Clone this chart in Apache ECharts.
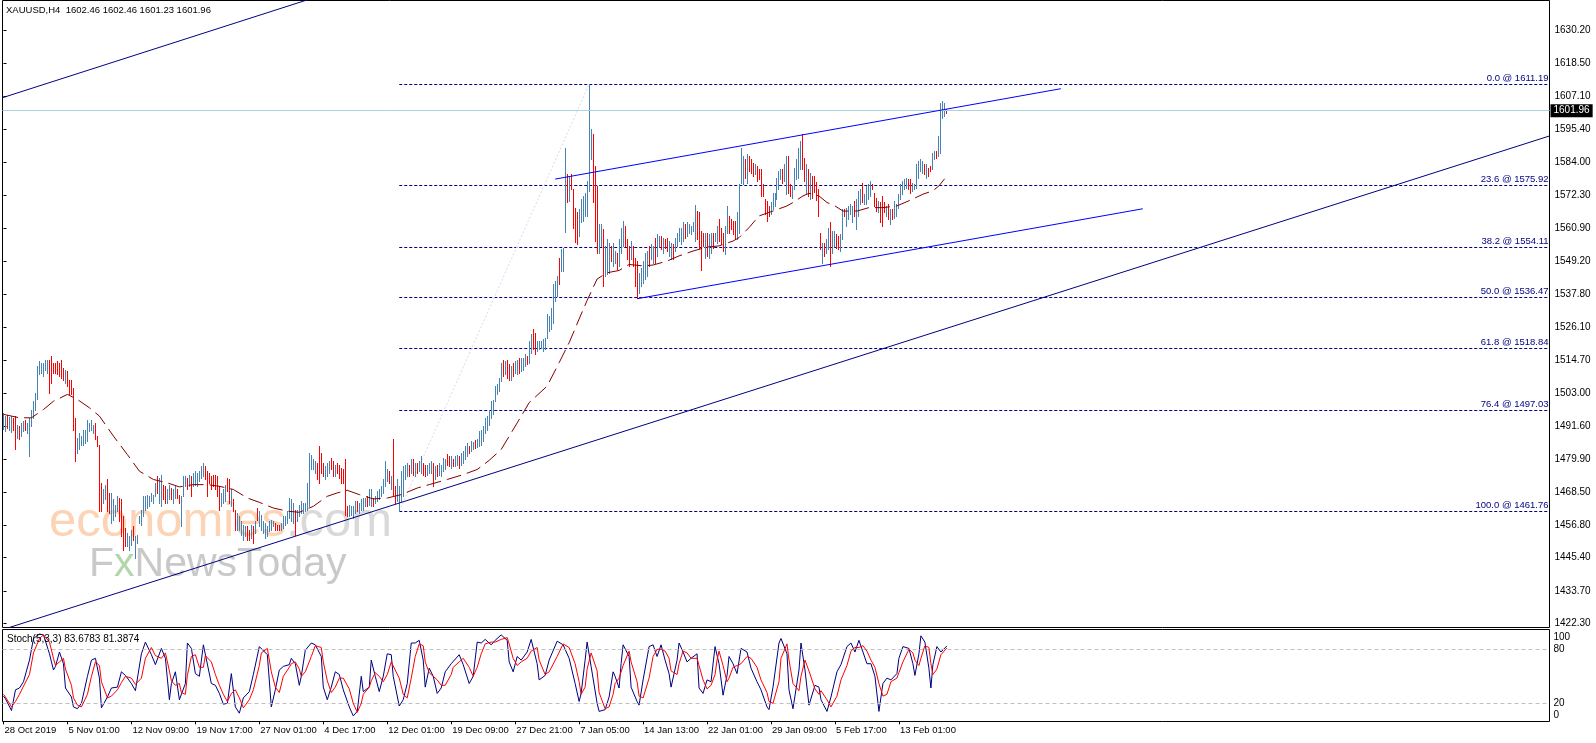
<!DOCTYPE html>
<html><head><meta charset="utf-8">
<script src="https://cdn.jsdelivr.net/npm/echarts@6/dist/echarts.min.js"></script>
<style>html,body{margin:0;padding:0;background:#fff}#c{width:1596px;height:743px}</style>
</head><body><div id="c"></div>
<script>
// ---------- data ----------
const xTickLabels = ['28 Oct 2019','5 Nov 01:00','12 Nov 09:00','19 Nov 17:00','27 Nov 01:00','4 Dec 17:00','12 Dec 01:00','19 Dec 09:00','27 Dec 21:00','7 Jan 05:00','14 Jan 13:00','22 Jan 01:00','29 Jan 09:00','5 Feb 17:00','13 Feb 01:00'];
const priceTickLabels = ['1630.20','1618.50','1607.10','1595.40','1584.00','1572.30','1560.90','1549.20','1537.80','1526.10','1514.70','1503.00','1491.60','1479.90','1468.50','1456.80','1445.40','1433.70','1422.30'];
const stochTickLabels = [0, 20, 80, 100];

const barHigh = [
1496.0,1495.2,1495.5,1494.8,1495.0,1494.4,1495.0,1492.0,1491.5,1492.6,
1493.2,1493.8,1492.6,1494.4,1497.3,1500.2,1503.2,1512.5,1514.3,1513.7,
1513.7,1514.8,1514.6,1514.8,1516.2,1513.7,1513.7,1514.3,1513.7,1514.8,
1511.9,1511.3,1510.7,1507.8,1507.8,1504.9,1494.4,1487.4,1489.1,1487.9,
1490.3,1490.3,1493.8,1492.6,1493.8,1492.0,1492.6,1487.9,1485.0,1471.6,
1469.3,1471.0,1472.8,1468.1,1468.1,1465.8,1464.0,1466.9,1466.3,1465.8,
1459.9,1455.8,1454.1,1452.9,1455.2,1456.4,1452.9,1453.5,1459.9,1462.2,
1466.9,1466.9,1467.5,1466.9,1468.1,1467.5,1471.6,1473.9,1473.3,1474.5,
1471.0,1470.4,1469.3,1471.0,1469.8,1469.3,1470.4,1469.3,1467.5,1466.9,
1473.9,1473.9,1473.3,1474.5,1473.9,1475.1,1475.7,1475.1,1475.7,1477.4,
1478.6,1477.4,1475.7,1475.1,1473.9,1474.5,1474.5,1473.9,1470.4,1468.1,
1469.3,1471.0,1473.3,1472.8,1469.3,1465.8,1462.2,1461.1,1459.9,1458.2,
1457.0,1456.4,1456.4,1455.2,1457.0,1456.4,1458.2,1462.8,1461.7,1460.5,
1458.2,1457.6,1456.4,1458.2,1458.7,1458.2,1457.6,1457.0,1457.0,1457.6,
1459.9,1459.9,1461.7,1466.3,1465.8,1464.6,1462.2,1462.2,1464.0,1465.2,
1464.6,1464.6,1471.6,1482.1,1481.5,1479.8,1479.2,1478.6,1484.5,1482.1,
1478.6,1477.4,1478.6,1479.2,1480.4,1479.2,1478.0,1478.6,1478.0,1476.9,
1476.3,1479.8,1463.4,1464.0,1463.4,1463.4,1465.2,1465.2,1464.6,1465.8,
1466.3,1466.3,1466.9,1469.3,1469.3,1466.3,1466.9,1468.7,1469.3,1470.4,
1472.8,1479.2,1476.3,1475.7,1473.9,1486.8,1470.4,1472.8,1470.4,
1475.7,1477.4,1478.0,1478.6,1478.0,1479.8,1479.8,1478.6,1478.6,1479.2,
1480.9,1478.6,1478.0,1478.0,1478.6,1479.2,1478.6,1477.4,1478.0,1478.6,
1478.0,1480.4,1479.8,1481.8,1480.9,1480.9,1479.8,1480.9,1481.5,1480.9,
1482.1,1482.7,1484.5,1485.6,1484.5,1486.2,1486.0,1486.5,1487.0,1489.7,
1490.3,1491.5,1494.4,1495.0,1497.3,1500.2,1500.8,1505.5,1506.1,1508.4,
1513.7,1514.8,1514.3,1514.8,1513.1,1512.5,1513.7,1514.3,1514.8,1515.4,
1515.4,1515.4,1516.6,1516.0,1521.3,1523.6,1525.4,1524.2,1521.3,1521.3,
1521.3,1521.9,1522.4,1530.6,1530.0,1533.0,1541.1,1542.3,1544.0,1550.5,
1553.4,1554.0,1588.8,1579.7,1579.1,1579.7,1574.5,1568.0,1566.3,1567.4,
1571.0,1572.1,1573.3,1577.4,1611.19,1595.5,1593.7,1582.6,1575.6,1562.2,
1562.2,1560.4,1554.6,1556.9,1555.7,1554.6,1555.7,1552.8,1552.2,1556.9,
1561.0,1563.3,1561.6,1556.9,1554.6,1556.3,1554.6,1550.5,1549.3,1545.2,
1547.0,1549.3,1552.2,1552.8,1554.6,1555.1,1554.6,1557.5,1558.7,1558.1,
1558.1,1557.5,1556.9,1557.5,1556.3,1555.7,1555.1,1557.5,1559.2,1561.0,
1561.0,1562.8,1562.2,1562.8,1562.2,1561.6,1562.8,1569.0,1566.9,1566.3,
1559.8,1559.2,1559.2,1559.2,1558.7,1559.2,1559.2,1559.2,1561.6,1564.0,
1561.0,1559.2,1561.6,1568.6,1565.1,1564.0,1563.3,1563.3,1566.3,1576.2,
1589.0,1586.1,1585.0,1586.7,1586.1,1585.0,1583.8,1583.2,1582.6,1581.5,
1581.5,1576.2,1570.9,1570.4,1568.6,1569.8,1573.3,1573.3,1578.5,1580.9,
1581.5,1581.5,1583.2,1586.1,1586.1,1576.2,1575.6,1582.0,1585.0,1589.0,
1591.4,1593.7,1585.5,1583.2,1581.5,1580.3,1579.0,1579.0,1577.0,1574.7,
1559.2,1555.7,1555.7,1556.9,1561.0,1562.8,1559.8,1559.8,1558.7,1558.1,
1558.7,1567.4,1567.4,1568.0,1568.6,1569.2,1568.6,1570.4,1570.9,1573.9,
1574.4,1576.8,1572.7,1575.6,1576.2,1577.4,1576.2,1573.3,1571.5,1570.4,
1569.8,1572.1,1569.8,1568.6,1569.2,1567.4,1567.4,1570.4,1569.2,1572.7,
1576.2,1577.4,1577.9,1578.5,1577.9,1577.9,1576.8,1576.2,1583.2,1584.4,
1585.0,1584.4,1583.2,1583.2,1582.0,1582.6,1587.3,1587.9,1587.9,1593.1,
1604.8,1605.3,1604.8,1602.46
];
const barLow = [
1490.5,1489.7,1491.0,1490.3,1489.4,1490.0,1483.3,1487.4,1486.8,1487.9,
1489.7,1490.3,1489.1,1481.0,1491.5,1494.4,1497.3,1501.0,1509.6,1510.2,
1509.0,1511.3,1510.2,1503.2,1506.7,1510.2,1510.2,1509.6,1509.0,1508.4,
1507.8,1506.7,1505.5,1502.6,1502.6,1490.3,1479.2,1482.1,1483.3,1485.0,
1485.0,1485.6,1486.2,1489.7,1490.3,1489.1,1486.8,1484.5,1461.7,1461.7,
1464.6,1465.8,1461.7,1461.1,1457.6,1458.7,1459.9,1461.7,1458.2,1452.9,
1448.2,1449.4,1449.4,1448.2,1450.0,1451.7,1445.3,1450.6,1457.6,1457.0,
1459.9,1462.2,1462.8,1463.4,1465.2,1464.6,1466.9,1468.1,1464.6,1463.4,
1465.8,1464.6,1464.6,1465.8,1465.8,1464.6,1466.3,1466.3,1464.6,1456.4,
1466.9,1470.4,1469.3,1470.4,1466.9,1470.4,1471.0,1470.4,1472.2,1473.3,
1473.9,1472.8,1466.9,1471.6,1469.3,1470.4,1469.3,1466.9,1462.2,1463.4,
1464.6,1465.2,1468.7,1464.6,1463.4,1461.7,1455.2,1455.2,1455.2,1453.5,
1451.7,1452.9,1451.7,1451.7,1452.3,1450.6,1454.1,1458.7,1456.4,1455.2,
1454.1,1452.3,1452.9,1454.6,1455.2,1456.4,1455.2,1455.2,1455.2,1455.2,
1455.8,1457.0,1457.6,1459.3,1458.2,1457.6,1453.5,1458.2,1459.9,1461.1,
1461.1,1461.7,1462.2,1463.4,1476.3,1476.3,1475.1,1472.8,1471.6,1475.1,
1473.9,1472.8,1473.9,1475.1,1476.3,1473.9,1473.9,1475.1,1473.3,1471.6,
1471.6,1460.5,1459.9,1459.9,1460.5,1459.3,1461.1,1461.7,1461.1,1462.2,
1462.2,1463.4,1463.4,1464.0,1463.4,1463.4,1464.6,1465.2,1465.8,1466.9,
1468.1,1470.4,1472.2,1471.6,1469.3,1467.5,1464.6,1465.2,1461.76,
1465.2,1466.9,1472.8,1473.9,1473.9,1475.1,1474.5,1473.9,1475.1,1475.7,
1475.1,1474.5,1473.9,1474.5,1475.1,1475.1,1470.4,1472.8,1473.9,1474.5,
1473.9,1475.7,1476.3,1478.0,1477.4,1476.9,1477.4,1477.4,1478.0,1476.9,
1478.0,1478.6,1479.8,1481.0,1482.1,1482.7,1483.3,1483.8,1484.0,1484.5,
1485.0,1486.2,1489.1,1490.3,1492.0,1494.4,1495.6,1500.2,1502.6,1503.8,
1507.2,1509.0,1509.6,1508.4,1507.8,1507.8,1509.0,1510.2,1509.6,1510.2,
1510.7,1511.3,1512.5,1513.1,1513.7,1517.2,1518.4,1516.6,1517.8,1518.4,
1518.9,1517.8,1518.4,1522.4,1524.8,1525.4,1527.7,1535.3,1537.0,1541.1,
1545.8,1545.8,1559.6,1569.8,1570.4,1574.5,1561.0,1555.8,1555.2,1558.1,
1562.8,1563.4,1565.1,1565.1,1573.9,1585.0,1570.0,1556.3,1552.2,1552.2,
1554.6,1540.5,1544.0,1544.6,1545.2,1549.3,1547.6,1548.7,1546.4,1547.6,
1552.2,1554.6,1554.6,1549.9,1547.6,1549.9,1547.6,1540.5,1536.3,1538.2,
1540.5,1541.7,1542.9,1544.0,1547.6,1549.9,1548.7,1548.7,1551.1,1554.6,
1553.4,1552.2,1554.0,1552.8,1551.1,1549.9,1549.9,1552.8,1554.6,1556.3,
1555.1,1556.3,1557.5,1558.1,1559.2,1558.7,1559.8,1556.3,1556.9,1554.0,
1546.1,1554.6,1550.5,1551.1,1550.5,1552.2,1554.0,1556.3,1555.7,1556.3,
1555.1,1552.8,1551.6,1559.2,1559.2,1560.4,1558.7,1556.9,1556.9,1559.2,
1576.8,1576.2,1578.5,1576.8,1580.9,1580.3,1579.1,1579.7,1577.4,1577.9,
1572.1,1572.1,1565.7,1563.3,1565.1,1565.7,1567.4,1568.6,1570.9,1574.4,
1577.9,1576.8,1577.4,1572.7,1573.3,1572.1,1571.5,1574.4,1577.9,1578.5,
1581.5,1581.5,1577.5,1573.3,1572.1,1571.0,1571.5,1573.5,1570.5,1565.1,
1553.4,1548.7,1551.1,1552.2,1553.4,1547.6,1552.2,1554.6,1554.0,1553.4,
1552.8,1556.9,1565.1,1561.6,1563.9,1565.7,1562.8,1565.1,1560.4,1565.1,
1569.2,1569.8,1569.2,1569.2,1570.9,1572.1,1574.4,1568.6,1566.8,1566.3,
1562.8,1561.6,1566.3,1565.1,1563.9,1562.2,1563.9,1564.5,1565.1,1568.0,
1570.9,1572.7,1574.4,1575.0,1574.4,1573.3,1573.9,1574.4,1575.0,1578.5,
1580.9,1580.3,1579.7,1578.5,1579.1,1580.9,1581.5,1585.0,1585.5,1586.1,
1587.3,1599.5,1600.2,1601.23
];
const barUp = [
1,1,0,1,1,0,0,1,0,1, 1,0,1,1,1,1,1,1,1,1, 1,1,1,0,0,0,0,0,0,0, 0,1,0,0,0,0,0,1,1,1,
1,1,1,1,1,1,0,0,0,0, 1,1,0,0,1,1,1,1,0,0, 0,0,1,1,1,0,1,1,1,1, 1,1,1,1,1,1,1,0,1,1,
0,0,1,1,0,1,1,0,0,1, 1,1,0,1,0,1,1,1,1,1, 1,0,0,0,0,0,0,0,0,1, 1,1,0,0,1,0,0,1,1,1,
1,1,0,0,1,0,1,0,1,1, 1,1,1,1,1,1,0,0,0,1, 1,1,1,1,1,1,0,1,1,1, 1,1,1,1,1,1,1,0,0,0,
0,1,1,1,0,0,1,0,0,0, 0,0,0,1,1,1,1,0,1,1, 1,1,0,1,1,0,1,1,1,1, 1,1,1,0,1,0,0,1,1,
1,1,1,1,0,1,0,1,0,1, 1,0,0,1,1,1,0,1,0,1, 1,1,1,0,0,1,0,1,1,0, 1,1,1,1,0,1,1,0,1,1,
1,1,1,1,1,1,1,1,1,1, 1,0,1,0,0,1,0,1,1,0, 1,1,1,0,1,1,0,0,1,1, 1,1,1,1,1,1,1,1,1,0,
1,1,1,0,1,0,0,0,0,1, 1,1,1,1,1,1,0,0,0,1,
1,0,1,1,1,0,1,1,0,1, 1,1,0,0,0,1,0,0,0,1, 1,1,1,1,0,1,1,0,1,1, 0,1,0,0,1,1,0,1,1,1,
1,1,0,1,1,1,1,1,0,0, 0,0,1,0,1,1,0,1,1,0, 0,0,1,1,0,0,0,0,1,1, 1,1,0,1,0,0,0,1,0,0,
0,0,0,0,0,1,1,1,1,1, 1,0,1,1,0,0,1,1,1,1, 1,0,0,1,0,1,0,0,0,0,
0,1,0,1,1,0,1,1,0,0, 1,1,0,1,1,1,1,0,1,1, 1,0,1,1,1,1,0,0,0,1, 0,0,0,1,0,1,0,1,1,1,
1,1,1,1,0,0,1,1,1,1, 1,1,0,1,0,0,1,1,0,1, 1,1,1,0
];

const maX = [0,8,14,20,25,32,37,43,48,55,62,68,75,82,88,95,102,108,115,122,128,135,142,148,155,162,167,172,178,185,192,199,207,213,222,230,237,243,249,257,263,272,278,283,285,288,292,297,302,308,313,320,325,332,338,345,352,358,365,368,373,378,385,392,395,400,403,408,412,416,420,427,433,440,447,453,460,465,468,472];
const maVal = [1495.6,1494.4,1494.4,1497.3,1500.2,1502.6,1500.8,1497.9,1495.0,1488.0,1481.5,1475.7,1472.8,1471.6,1470.2,1471.0,1471.0,1470.4,1469.3,1466.3,1464.8,1462.8,1461.7,1461.3,1463.4,1466.9,1468.1,1469.0,1467.5,1466.0,1466.3,1467.5,1469.8,1471.0,1472.8,1474.5,1476.3,1479.5,1483.3,1492.6,1499.7,1505.5,1513.7,1520.7,1524.0,1529.0,1535.5,1543.0,1545.2,1546.0,1548.1,1547.6,1547.9,1549.3,1551.1,1552.8,1554.2,1554.6,1556.3,1557.5,1561.0,1565.1,1566.8,1568.6,1569.8,1572.1,1573.0,1572.1,1569.8,1568.6,1566.8,1566.8,1568.0,1568.0,1568.6,1570.4,1572.7,1573.9,1575.6,1579.1];

const stochX = [
0,1,4,6,8,10,13,15,18,20, 23,25,26,28,30,31,34,35,37,39, 42,44,46,48,49,52,54,57,59,61,
64,66,69,71,74,76,79,81,83,84, 86,88,89,91,92,94,96,98,100,101, 104,106,108,110,112,114,116,118,120,123,
125,128,129,132,134,136,138,140,143,144, 146,148,149,151,154,156,159,160,162,164, 166,168,170,173,175,177,179,180,183,184,
186,188,190,192,194,195,198,200,202,204, 206,208,210,211,213,215,217,219,221,224, 225,228,230,233,235,237,239,241,244,246,
249,252,253,255,257,259,262,264,267,268, 271,273,277,280,283,286,288,289,291,292, 294,297,298,301,303,305,306,308,309,310,
313,314,317,318,320,323,325,327,329,331, 333,334,337,338,340,342,344,347,348,350, 352,354,356,357,358,360,362,363,365,367,
369,372,374,377,379,382,383,385,388,389, 392,393,395,398,399,401,403,406,408,409, 412,414,417,419,422,424,426,428,430,432,
434,436,438,440,442,444,447,448,450,453, 455,456,458,459,461,463,464,465,467,469, 472];
const stochK = [
28,25,12,35,37,44,68,92,97,96, 75,57,61,77,64,37,27,16,14,20, 50,68,70,48,15,27,37,38,55,51,
42,34,75,88,74,63,81,70,24,42, 55,24,24,42,87,81,53,50,85,83, 42,40,31,19,20,53,16,9,26,33,
52,83,85,74,16,35,57,61,63,70, 64,40,50,79,87,85,72,38,24,38, 55,52,35,16,6,11,50,33,38,68,
50,33,50,75,74,50,17,24,42,87, 87,90,68,38,59,50,31,37,55,64, 66,74,63,42,50,88,87,91,85,90,
96,90,66,55,72,68,77,91,64,46, 51,68,89,85,70,42,22,31,68,88, 61,20,11,13,27,55,50,37,64,85,
72,38,22,18,46,83,85,72,85,68, 53,38,68,87,77,66,70,75,37,31, 46,44,83,85,64,29,51,72,64,53,
81,77,59,44,35,16,13,38,87,92, 75,35,14,57,87,57,18,40,38,24, 11,27,55,63,83,87,77,90,77,64,
64,50,11,42,48,46,53,70,83,81, 64,51,75,95,88,59,37,63,83,77, 83.6783];
const stochD = [
30,27,16,22,30,39,52,76,92,96, 88,70,62,66,70,58,40,26,18,16, 30,50,66,62,44,26,28,35,43,50,
48,41,48,70,82,73,70,76,56,45, 40,42,32,30,51,72,74,60,60,73, 66,52,40,30,22,31,35,26,15,24,
35,62,76,81,55,38,32,50,60,64, 66,58,50,55,72,84,82,66,45,32, 38,48,48,36,20,10,20,30,38,45,
54,50,44,52,66,68,48,30,26,48, 72,86,84,66,54,50,46,40,40,52, 60,66,70,60,50,60,75,86,88,88,
91,93,86,70,62,66,70,78,82,68, 52,55,72,86,82,64,44,30,38,58, 76,56,32,14,16,30,42,48,50,62,
78,66,44,28,26,48,72,80,80,78, 70,56,52,64,78,76,70,70,62,46, 36,40,52,68,78,62,44,48,60,62,
64,72,70,60,46,32,22,20,44,70, 86,68,42,34,50,68,56,36,30,34, 24,16,28,46,62,78,82,82,84,78,
68,60,42,28,30,44,48,54,66,80, 76,68,62,70,84,82,64,52,58,74, 81.3874];

const fibLevels = [0.0, 23.6, 38.2, 50.0, 61.8, 76.4, 100.0];
const fibPrices = [1611.19, 1575.92, 1554.11, 1536.47, 1518.84, 1497.03, 1461.76];
const fibStart = [198, 1461.76], fibEnd = [293, 1611.19];
const lastPrice = 1601.96;
// trend lines: [barIndex, price] anchor pairs
const longTrend = [[-0.5, 1420.2], [773.5, 1593.1]];
const topTrend = [[-0.5, 1606.5], [153.5, 1641.1]];
const channelUpper = [[276, 1578.0], [529, 1609.65]];
const channelLower = [[317, 1536.1], [570, 1567.6]];

// ---------- chart ----------
const N_SLOTS = 774, LABEL_STEP = 32;
const FONT = 'Liberation Sans, Arial, sans-serif';
const cats = [];
for (let i = 0; i < N_SLOTS; i++) cats.push(i % LABEL_STEP === 0 && i / LABEL_STEP < xTickLabels.length ? xTickLabels[i / LABEL_STEP] : '');
const bars = barHigh.map((h, i) => [i, barLow[i], h, barUp[i]]);
const ma = maX.map((x, i) => [x, maVal[i]]);
const kLine = stochX.map((x, i) => [x, stochK[i]]);
const dLine = stochX.map((x, i) => [x, stochD[i]]);
const tickShown = (idx) => idx % LABEL_STEP === 0 && idx / LABEL_STEP < xTickLabels.length;

function renderBar(params, api) {
  const i = api.value(0);
  const lo = api.coord([i, api.value(1)]);
  const hi = api.coord([i, api.value(2)]);
  const x = Math.floor(lo[0]) + 0.5;
  const yTop = Math.round(hi[1]);
  let yBot = Math.round(lo[1]) + 1;
  if (yBot <= yTop) yBot = yTop + 1;
  return { type: 'line', silent: true,
    shape: { x1: x, y1: yTop, x2: x, y2: yBot },
    style: { stroke: api.value(3) ? '#4682B4' : '#FF0000', lineWidth: 1 } };
}

const trend = (data, color) => ({
  type: 'line', xAxisIndex: 1, yAxisIndex: 0, data, showSymbol: false, symbol: 'none',
  lineStyle: { color, width: 1 }, silent: true, z: 6, clip: true
});

const fibMarks = fibLevels.map((lv, i) => [
  { name: lv.toFixed(1) + ' @ ' + fibPrices[i].toFixed(2), coord: [fibStart[0], fibPrices[i]] },
  { coord: [N_SLOTS - 0.5, fibPrices[i]] }
]);

const chart = echarts.init(document.getElementById('c'));
chart.setOption({
  animation: false,
  backgroundColor: '#ffffff',
  textStyle: { fontFamily: FONT },
  graphic: [
    { type: 'text', x: 49, y: 522, z: 0, silent: true,
      style: { text: '{a|economies}{b|.com}', verticalAlign: 'middle', font: '49px ' + FONT,
        rich: { a: { fill: '#fcd3b4', font: '49px ' + FONT }, b: { fill: '#d9d9d9', font: '49px ' + FONT } } } },
    { type: 'text', x: 89, y: 565, z: 0, silent: true,
      style: { text: '{a|F}{x|x}{a|NewsToday}', verticalAlign: 'middle', font: '41px ' + FONT,
        rich: { a: { fill: '#c9c9c9', font: '41px ' + FONT }, x: { fill: '#b4d6ac', font: '41px ' + FONT } } } },
    { type: 'text', x: 6, y: 5, z: 10, silent: true,
      style: { text: 'XAUUSD,H4  1602.46 1602.46 1601.23 1601.96', fill: '#000', font: '9.5px ' + FONT } },
    { type: 'text', x: 7, y: 634, z: 10, silent: true,
      style: { text: 'Stoch(5,3,3) 83.6783 81.3874', fill: '#000', font: '10px ' + FONT } }
  ],
  grid: [
    { left: 2.5, top: 0.5, width: 1547, height: 627, show: true, borderColor: '#000', borderWidth: 1, backgroundColor: 'transparent', containLabel: false, outerBoundsMode: 'none' },
    { left: 2.5, top: 629.5, width: 1547, height: 92, show: true, borderColor: '#000', borderWidth: 1, backgroundColor: 'transparent', containLabel: false, outerBoundsMode: 'none' }
  ],
  xAxis: [
    { type: 'category', gridIndex: 0, data: cats, show: false },
    { type: 'value', gridIndex: 0, min: -0.5, max: N_SLOTS - 0.5, show: false },
    { type: 'category', gridIndex: 1, data: cats, position: 'bottom',
      axisLine: { show: false },
      axisTick: { show: true, interval: tickShown, alignWithLabel: true, length: 3, lineStyle: { color: '#000' } },
      axisLabel: { show: true, interval: tickShown, color: '#000', fontSize: 9.5, fontFamily: FONT, align: 'left', margin: 4, padding: [0, 0, 0, 1] },
      splitLine: { show: false } },
    { type: 'value', gridIndex: 1, min: -0.5, max: N_SLOTS - 0.5, show: false }
  ],
  yAxis: [
    { type: 'value', gridIndex: 0, position: 'right', min: 1420.96, max: 1640.54, scale: true,
      axisLine: { show: false }, splitLine: { show: false },
      axisTick: { show: true, length: 3, customValues: priceTickLabels.map(Number), lineStyle: { color: '#000' } },
      axisLabel: { show: true, customValues: priceTickLabels.map(Number), formatter: v => v.toFixed(2), color: '#000', fontSize: 10, fontFamily: FONT, margin: 5 } },
    { type: 'value', gridIndex: 1, position: 'right', min: -0.2, max: 102,
      axisLine: { show: false }, splitLine: { show: false }, axisTick: { show: false },
      axisLabel: { show: true, customValues: stochTickLabels, color: '#000', fontSize: 10, fontFamily: FONT, margin: 4,
        formatter: v => v === 100 ? '{t|100}' : (v === 0 ? '{b|0}' : '{m|' + v + '}'),
        rich: { t: { padding: [11, 0, 0, 0], fontSize: 10 }, b: { padding: [0, 0, 12, 0], fontSize: 10 }, m: { fontSize: 10 } } } }
  ],
  series: [
    { type: 'custom', xAxisIndex: 0, yAxisIndex: 0, data: bars, renderItem: renderBar, z: 4, clip: true, silent: true,
      encode: { x: 0, y: [1, 2] } },
    { type: 'line', xAxisIndex: 1, yAxisIndex: 0, data: ma, showSymbol: false, symbol: 'none', silent: true, z: 5,
      lineStyle: { color: '#800000', width: 1, type: [15, 6] } },
    { type: 'line', xAxisIndex: 1, yAxisIndex: 0, data: [fibStart, fibEnd], showSymbol: false, symbol: 'none', silent: true, z: 3,
      lineStyle: { color: '#d8d8f4', width: 1, type: [2, 2] },
      markLine: { silent: true, symbol: ['none', 'none'], animation: false, z: 3,
        lineStyle: { color: '#000080', width: 1, type: [3, 2] },
        label: { show: true, position: 'insideEndTop', formatter: '{b}', color: '#000080', fontSize: 9.5, fontFamily: FONT, distance: [1, 1] },
        emphasis: { disabled: true },
        data: fibMarks } },
    { type: 'line', xAxisIndex: 1, yAxisIndex: 0, data: [], silent: true, z: 2,
      markLine: { silent: true, symbol: ['none', 'none'], animation: false,
        lineStyle: { color: '#aad4e2', width: 1, type: 'solid' },
        label: { show: true, position: 'end', formatter: lastPrice.toFixed(2), color: '#fff', backgroundColor: '#000', padding: [2, 3, 1, 3], fontSize: 10, fontFamily: FONT, distance: 1 },
        emphasis: { disabled: true },
        data: [[{ coord: [-0.5, lastPrice] }, { coord: [N_SLOTS - 0.5, lastPrice] }]] } },
    trend(longTrend, '#000080'),
    trend(topTrend, '#000080'),
    trend(channelUpper, '#0000FF'),
    trend(channelLower, '#0000FF'),
    { type: 'line', xAxisIndex: 3, yAxisIndex: 1, data: kLine, showSymbol: false, symbol: 'none', silent: true, z: 4,
      lineStyle: { color: '#000080', width: 1 },
      markLine: { silent: true, symbol: ['none', 'none'], animation: false, label: { show: false },
        lineStyle: { color: '#c0c0c0', width: 1, type: [4, 3] }, emphasis: { disabled: true },
        data: [[{ coord: [-0.5, 80] }, { coord: [N_SLOTS - 0.5, 80] }], [{ coord: [-0.5, 20] }, { coord: [N_SLOTS - 0.5, 20] }]] } },
    { type: 'line', xAxisIndex: 3, yAxisIndex: 1, data: dLine, showSymbol: false, symbol: 'none', silent: true, z: 5,
      lineStyle: { color: '#FF0000', width: 1 } }
  ]
});
</script>
</body></html>
